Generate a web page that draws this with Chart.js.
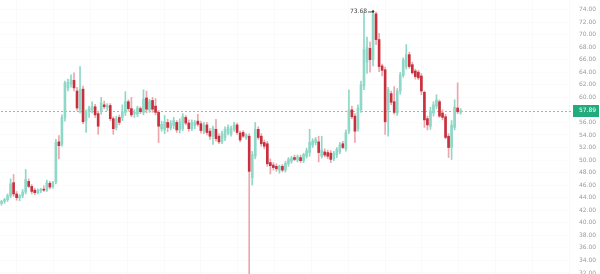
<!DOCTYPE html>
<html>
<head>
<meta charset="utf-8">
<script src="https://cdn.jsdelivr.net/npm/chart.js@4.4.1/dist/chart.umd.min.js"></script>
<style>
  html, body { margin: 0; padding: 0; background: #fff; }
  canvas { display: block; }
</style>
</head>
<body>
<canvas id="candleChart" width="600" height="274"></canvas>
<script>
// OHLC, one entry per candle, left to right
const opens = [
  43.1, 43.4, 43.7, 44.3, 46.4, 44.6, 44.0, 44.3, 44.9, 46.6,
  45.8, 45.2, 44.8, 45.1, 45.3, 45.2, 46.3, 45.8, 46.5, 52.9,
  52.5, 56.8, 61.5, 62.1, 62.7, 61.0, 58.0, 61.3, 56.3, 57.8,
  58.0, 58.5, 57.4, 57.7, 58.8, 58.4, 58.7, 56.6, 55.2, 56.8,
  56.8, 57.6, 59.3, 58.2, 57.4, 57.3, 58.2, 57.6, 59.9, 58.0,
  59.5, 58.6, 57.6, 55.0, 54.8, 56.0, 55.1, 55.5, 56.0, 54.8,
  55.0, 56.8, 55.9, 55.0, 55.5, 56.2, 55.8, 54.6, 55.6, 54.6,
  53.8, 54.9, 53.8, 52.9, 53.5, 54.3, 54.1, 54.9, 55.6, 54.3,
  54.4, 53.6, 53.8, 47.2, 50.6, 54.9, 53.8, 52.8, 52.6, 49.6,
  49.2, 49.0, 48.4, 49.0, 48.4, 49.4, 49.8, 50.4, 50.0, 50.4,
  49.9, 50.6, 51.2, 52.4, 52.8, 52.9, 50.6, 51.3, 51.2, 51.1,
  50.2, 50.8, 51.3, 52.6, 51.8, 54.6, 58.0, 57.0, 55.0, 58.0,
  61.8, 65.6, 67.8, 66.0, 73.3, 69.2, 65.0, 64.4, 58.0, 60.6,
  59.3, 57.5, 61.0, 63.5, 64.9, 66.8, 65.2, 64.2, 64.0, 63.4,
  60.8, 56.6, 55.4, 57.5, 58.6, 59.3, 57.5, 56.9, 53.8, 52.0,
  55.2, 58.3, 57.6
];
const highs = [
  43.6, 43.9, 44.6, 47.0, 47.7, 45.0, 44.5, 45.3, 48.5, 47.0,
  46.1, 45.5, 45.4, 45.5, 45.9, 46.8, 46.6, 46.6, 53.3, 53.9,
  57.2, 62.6, 62.9, 63.6, 63.9, 61.6, 64.9, 61.8, 58.0, 58.6,
  59.3, 58.9, 57.8, 60.0, 59.4, 59.0, 59.0, 56.9, 57.0, 57.2,
  58.8, 60.9, 59.6, 60.0, 58.0, 58.6, 58.5, 61.2, 61.0, 59.7,
  60.0, 59.8, 57.9, 56.2, 57.1, 56.5, 56.3, 56.8, 56.3, 56.6,
  57.4, 57.1, 56.4, 56.4, 56.3, 57.3, 56.2, 56.0, 56.0, 55.0,
  55.4, 56.5, 54.2, 54.6, 55.3, 55.6, 55.4, 56.0, 55.9, 54.6,
  54.7, 54.2, 54.2, 51.4, 56.0, 55.3, 54.2, 53.2, 53.0, 50.2,
  49.6, 49.4, 49.2, 49.3, 49.8, 50.4, 50.6, 50.8, 50.8, 50.8,
  51.1, 51.9, 54.9, 53.4, 53.6, 53.8, 53.8, 51.8, 51.6, 51.5,
  51.4, 52.0, 52.8, 53.0, 54.8, 61.2, 58.6, 57.4, 58.8, 62.6,
  73.5, 69.6, 68.8, 73.68, 73.6, 70.2, 65.3, 64.8, 61.6, 61.0,
  61.7, 61.4, 64.0, 66.3, 68.4, 67.2, 65.6, 64.5, 64.3, 63.8,
  61.0, 57.0, 58.4, 59.3, 60.4, 59.6, 58.0, 57.3, 54.2, 56.3,
  59.6, 62.3, 58.2
];
const lows = [
  42.8, 43.1, 43.4, 44.0, 44.2, 43.6, 43.5, 44.0, 44.6, 45.6,
  44.6, 44.5, 44.6, 44.8, 45.0, 45.0, 45.4, 45.5, 46.2, 50.2,
  52.2, 56.2, 61.0, 61.6, 61.0, 57.9, 57.5, 55.8, 54.4, 56.8,
  57.5, 56.8, 54.1, 57.3, 58.2, 57.9, 56.3, 54.1, 54.8, 55.6,
  56.3, 57.1, 57.8, 56.9, 56.8, 56.9, 57.4, 57.2, 57.5, 57.6,
  57.6, 57.2, 52.8, 54.6, 54.2, 54.5, 54.8, 55.0, 54.4, 54.3,
  54.7, 55.6, 54.6, 54.7, 55.0, 55.4, 54.3, 54.2, 54.0, 53.3,
  52.5, 53.0, 52.6, 52.6, 53.1, 54.0, 53.8, 54.6, 54.1, 52.9,
  53.6, 53.3, 31.8, 46.0, 50.2, 53.3, 52.2, 51.8, 49.0, 47.8,
  48.4, 48.2, 47.9, 48.1, 48.1, 49.0, 49.5, 49.9, 49.7, 49.6,
  49.6, 50.3, 50.6, 52.0, 52.4, 49.7, 50.3, 50.5, 50.2, 49.6,
  49.9, 50.4, 51.0, 51.8, 51.4, 54.2, 56.6, 52.8, 54.6, 57.6,
  61.2, 63.8, 64.0, 65.0, 68.4, 64.1, 63.4, 54.1, 53.8, 58.8,
  57.3, 57.1, 60.5, 63.2, 64.5, 64.6, 63.7, 62.9, 62.8, 60.4,
  55.2, 54.8, 54.9, 57.0, 58.2, 56.8, 56.4, 53.4, 50.4, 50.1,
  54.8, 57.4, 57.3
];
const closes = [
  43.4, 43.7, 44.3, 46.2, 44.6, 44.0, 44.3, 44.9, 46.9, 45.8,
  45.0, 44.8, 45.2, 45.3, 45.2, 46.4, 45.7, 46.4, 52.8, 52.3,
  56.8, 62.3, 62.4, 62.8, 61.5, 58.3, 61.3, 56.1, 57.8, 58.3,
  58.5, 57.2, 55.4, 59.1, 58.5, 58.7, 56.6, 55.0, 56.6, 56.0,
  57.7, 59.3, 58.2, 57.2, 57.6, 58.3, 57.7, 59.7, 58.1, 59.4,
  58.1, 57.6, 55.4, 55.7, 56.1, 55.2, 55.9, 56.3, 54.8, 56.1,
  56.9, 55.9, 55.0, 56.0, 56.0, 55.7, 54.7, 55.6, 54.4, 53.8,
  55.1, 53.4, 52.9, 54.2, 54.9, 55.2, 55.0, 55.6, 54.4, 53.2,
  53.8, 54.0, 48.2, 50.9, 54.9, 53.6, 52.6, 52.2, 49.4, 49.1,
  48.8, 48.6, 49.0, 48.4, 49.5, 50.1, 50.3, 50.1, 50.5, 49.9,
  50.9, 51.5, 52.8, 53.0, 53.3, 51.2, 51.6, 50.8, 50.6, 50.1,
  51.1, 51.7, 52.4, 52.0, 54.4, 58.0, 56.9, 54.6, 58.3, 62.0,
  67.6, 68.0, 66.0, 73.3, 69.2, 64.9, 64.3, 56.1, 61.2, 59.2,
  57.6, 61.0, 63.6, 66.0, 66.8, 64.9, 63.9, 63.3, 63.1, 61.0,
  56.4, 55.6, 57.8, 58.8, 59.6, 57.0, 56.8, 53.6, 52.0, 55.6,
  58.4, 57.7, 57.89
];

const lastPrice = 57.89;
const highLabel = '73.68';

const upColor = '#8fd7c6';
const downBody = '#c8303e';
const downWick = '#eba7ad';
const priceGreen = '#22ab7c';

const upFlags = closes.map((c, i) => c >= opens[i]);

const wickData = lows.map((l, i) => ({ x: i, y: [l, highs[i]] }));
const bodyData = opens.map((o, i) => ({ x: i, y: [o, closes[i]] }));

// dotted last-price line, price tag on the axis and the max-high marker
const overlay = {
  id: 'overlay',
  beforeDatasetsDraw(chart) {
    const { ctx, chartArea, scales } = chart;
    const y = Math.round(scales.y.getPixelForValue(lastPrice));
    ctx.save();
    ctx.fillStyle = '#6ccaaf';
    // one small dash every 4 px
    for (let x = chartArea.left + 1; x < chartArea.right; x += 4) {
      ctx.fillRect(x, y, 2, 1);
    }
    ctx.restore();
  },
  afterDraw(chart) {
    const { ctx, chartArea, scales } = chart;
    const y = scales.y.getPixelForValue(lastPrice);
    ctx.save();
    ctx.fillStyle = priceGreen;
    ctx.fillRect(chartArea.right + 3, Math.round(y) - 6, 26, 12);
    ctx.fillStyle = '#fff';
    ctx.font = '6px "DejaVu Sans"';
    ctx.textBaseline = 'middle';
    ctx.fillText(lastPrice.toFixed(2), chartArea.right + 9, y);

    // max high marker
    let hi = 0;
    highs.forEach((h, i) => { if (h > highs[hi]) hi = i; });
    const hx = scales.x.getPixelForValue(hi);
    const hy = scales.y.getPixelForValue(highs[hi]);
    ctx.fillStyle = '#333';
    ctx.beginPath();
    ctx.arc(hx, hy, 1.2, 0, Math.PI * 2);
    ctx.fill();
    ctx.strokeStyle = '#555';
    ctx.beginPath();
    ctx.moveTo(hx - 5, hy + 0.5);
    ctx.lineTo(hx - 1, hy + 0.5);
    ctx.stroke();
    ctx.fillStyle = '#444';
    ctx.textAlign = 'right';
    ctx.fillText(highLabel, hx - 6, hy);
    ctx.restore();
  }
};

new Chart(document.getElementById('candleChart').getContext('2d'), {
  type: 'bar',
  data: {
    datasets: [{
      label: 'wick',
      data: wickData,
      backgroundColor: upFlags.map(u => u ? upColor : downWick),
      barThickness: 1,
      grouped: false,
      minBarLength: 1,
      clip: false,
      order: 2
    }, {
      label: 'body',
      data: bodyData,
      backgroundColor: upFlags.map(u => u ? upColor : downBody),
      barThickness: 2,
      grouped: false,
      minBarLength: 1,
      clip: false,
      order: 1
    }]
  },
  options: {
    responsive: false,
    animation: false,
    devicePixelRatio: 1,
    layout: { padding: 0 },
    plugins: { legend: { display: false }, tooltip: { enabled: false } },
    scales: {
      x: {
        type: 'linear',
        offset: false,
        min: -0.5,
        max: 188.2,
        border: { display: false },
        grid: { offset: false, color: 'rgba(0,0,0,0.018)', drawTicks: false },
        ticks: { display: false },
        afterBuildTicks: s => {
          const t = [];
          for (let v = 5; v < 188; v += 12.2) t.push({ value: v });
          s.ticks = t;
        },
        afterFit: s => { s.height = 0; s.paddingLeft = 0; s.paddingRight = 0; }
      },
      y: {
        position: 'right',
        min: 31.84,
        max: 75.51,
        border: { display: false },
        grid: { color: 'rgba(0,0,0,0.016)', drawTicks: false },
        ticks: {
          stepSize: 2,
          includeBounds: false,
          padding: 9,
          color: '#9b9b9b',
          font: { size: 6, family: 'DejaVu Sans' },
          callback: v => v.toFixed(2)
        },
        afterFit: s => { s.width = 30; s.paddingTop = 0; s.paddingBottom = 0; }
      }
    }
  },
  plugins: [overlay]
});
</script>
</body>
</html>
